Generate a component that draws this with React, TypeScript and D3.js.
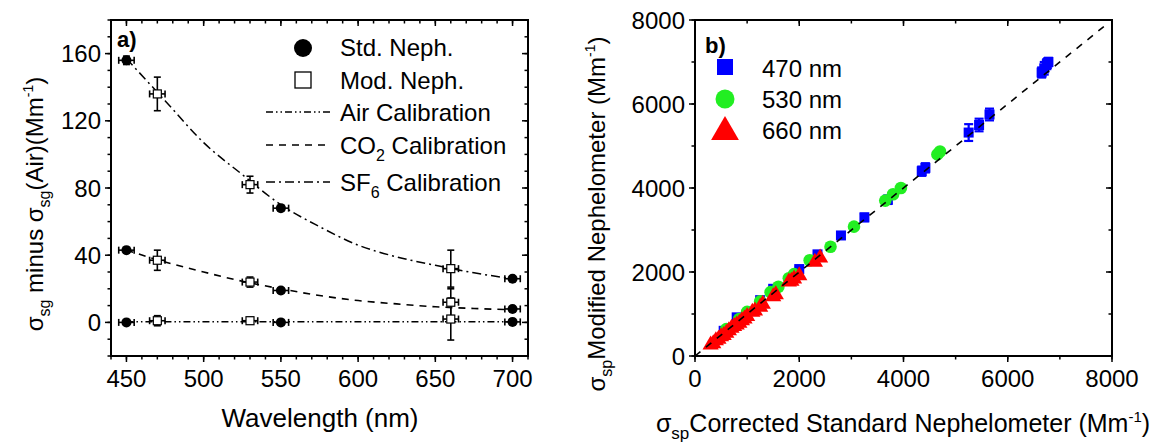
import React from "react";
import * as d3 from "d3";

// ---------- Panel a data ----------
const stdWl = [450, 550, 700];
const stdAir = [0, 0, 0.3];
const stdAirErr = [1.5, 1.5, 1.5];
const stdCO2 = [43, 19, 8];
const stdCO2Err = [1.5, 1.5, 1.5];
const stdSF6 = [156, 68, 26];
const stdSF6Err = [2.5, 1.5, 1.5];

const modWl = [470, 530, 660];
const modAir = [1, 1, 2];
const modAirErr = [3, 2, 12.5];
const modCO2 = [37, 24, 12];
const modCO2Err = [6, 3, 8];
const modSF6 = [136, 82, 32];
const modSF6Err = [10, 5, 11];
const wlErr = 5;

const fitWl = [450, 475, 500, 525, 550, 575, 600, 625, 650, 675, 700];
const fitAir = [0.4, 0.4, 0.4, 0.4, 0.4, 0.4, 0.4, 0.4, 0.4, 0.4, 0.4];
const fitCO2 = [43, 36, 30, 24.5, 20, 16, 13, 11, 9.3, 8.3, 7.5];
const fitSF6 = [157, 132, 107, 88, 70, 57, 46, 39, 34, 29.5, 26];

const aXTicks = [450, 500, 550, 600, 650, 700];
const aYTicks = [0, 40, 80, 120, 160];

// ---------- Panel b data ----------
const blueX = [550, 800, 1000, 1250, 1500, 2000, 2350, 2800, 3250, 3700, 4350, 4420, 5250, 5450, 5650, 6650, 6700, 6750, 6780];
const blueY = [600, 920, 1000, 1330, 1600, 2070, 2420, 2870, 3300, 3720, 4400, 4480, 5320, 5500, 5750, 6750, 6850, 6950, 7000];
const blueErr = [20, 30, 30, 40, 50, 60, 70, 80, 90, 100, 110, 110, 200, 150, 140, 120, 150, 120, 100];

const greenX = [600, 850, 1000, 1250, 1450, 1600, 1800, 1900, 2200, 2600, 3050, 3650, 3800, 3950, 4650, 4700];
const greenY = [640, 880, 1050, 1300, 1520, 1650, 1850, 1950, 2280, 2600, 3080, 3700, 3850, 4000, 4800, 4870];

const redX = [300, 350, 400, 450, 500, 550, 600, 650, 700, 750, 800, 850, 900, 950, 1000, 1100, 1150, 1250, 1300, 1500, 1550, 1800, 1850, 1900, 2000, 2300, 2400];
const redY = [280, 310, 380, 420, 480, 510, 560, 620, 680, 720, 760, 800, 860, 900, 960, 1060, 1090, 1180, 1250, 1430, 1480, 1780, 1800, 1850, 1930, 2250, 2350];

const bTicks = [0, 2000, 4000, 6000, 8000];
const oneToOne = [0, 7850];

const FONT = "Liberation Sans, Arial, Helvetica, sans-serif";
const BLUE = "#0000ff";
const GREEN = "#22ee22";
const RED = "#ff0000";

const TOP = 20;
const BOT = 356;

function Frame({ x0, x1, xScale, yScale, xMajor, xMinor, yMajor, yMinor, xFmt, yFmt }: any) {
  const els: any[] = [];
  const ML = 6, mL = 3.5;
  xMinor.forEach((v: number, i: number) => {
    const x = xScale(v);
    els.push(<line key={"xb" + i} x1={x} x2={x} y1={BOT} y2={BOT + mL} stroke="#000" strokeWidth={1.5} />);
    els.push(<line key={"xt" + i} x1={x} x2={x} y1={TOP} y2={TOP + mL} stroke="#000" strokeWidth={1.5} />);
  });
  xMajor.forEach((v: number, i: number) => {
    const x = xScale(v);
    els.push(<line key={"XB" + i} x1={x} x2={x} y1={BOT} y2={BOT + ML} stroke="#000" strokeWidth={1.5} />);
    els.push(<line key={"XT" + i} x1={x} x2={x} y1={TOP} y2={TOP + ML} stroke="#000" strokeWidth={1.5} />);
    els.push(<text key={"XL" + i} x={x} y={387} textAnchor="middle" fontSize={24} fontFamily={FONT}>{xFmt(v)}</text>);
  });
  yMinor.forEach((v: number, i: number) => {
    const y = yScale(v);
    els.push(<line key={"yl" + i} x1={x0 - mL} x2={x0} y1={y} y2={y} stroke="#000" strokeWidth={1.5} />);
    els.push(<line key={"yr" + i} x1={x1 - mL} x2={x1} y1={y} y2={y} stroke="#000" strokeWidth={1.5} />);
  });
  yMajor.forEach((v: number, i: number) => {
    const y = yScale(v);
    els.push(<line key={"YL" + i} x1={x0 - ML} x2={x0} y1={y} y2={y} stroke="#000" strokeWidth={1.5} />);
    els.push(<line key={"YR" + i} x1={x1 - ML} x2={x1} y1={y} y2={y} stroke="#000" strokeWidth={1.5} />);
    els.push(<text key={"YLb" + i} x={x0 - 10} y={y} dy="0.36em" textAnchor="end" fontSize={24} fontFamily={FONT}>{yFmt(v)}</text>);
  });
  els.push(<rect key="frame" x={x0} y={TOP} width={x1 - x0} height={BOT - TOP} fill="none" stroke="#000" strokeWidth={2} />);
  return <g>{els}</g>;
}

const AIR_DASH = "7,3,1.5,3,1.5,3";
const CO2_DASH = "7,6";
const SF6_DASH = "9,4,2,4";

export default function App() {
  // Panel a scales
  const ax = d3.scaleLinear().domain([440, 710]).range([111, 528]);
  const ay = d3.scaleLinear().domain([-20, 180]).range([BOT, TOP]);
  // Panel b scales
  const bx = d3.scaleLinear().domain([0, 8000]).range([695, 1112]);
  const by = d3.scaleLinear().domain([0, 8000]).range([BOT, TOP]);

  const fitLine = (vals: number[]) =>
    d3.line<number>().x((_, i) => ax(fitWl[i])).y((v) => ay(v)).curve(d3.curveMonotoneX)(vals) || "";

  const errBars = (wl: number[], vals: number[], err: number[], key: string) =>
    wl.map((w, i) => {
      const cx = ax(w), cy = ay(vals[i]);
      const yt = ay(vals[i] + err[i]), yb = ay(vals[i] - err[i]);
      const xl = ax(w - wlErr), xr = ax(w + wlErr);
      return (
        <g key={key + i} stroke="#000" strokeWidth={1.6}>
          <line x1={cx} x2={cx} y1={yt} y2={yb} />
          <line x1={cx - 3.5} x2={cx + 3.5} y1={yt} y2={yt} />
          <line x1={cx - 3.5} x2={cx + 3.5} y1={yb} y2={yb} />
          <line x1={xl} x2={xr} y1={cy} y2={cy} />
          <line x1={xl} x2={xl} y1={cy - 3.5} y2={cy + 3.5} />
          <line x1={xr} x2={xr} y1={cy - 3.5} y2={cy + 3.5} />
        </g>
      );
    });

  const stdPts = (vals: number[], key: string) =>
    stdWl.map((w, i) => <circle key={key + i} cx={ax(w)} cy={ay(vals[i])} r={5} fill="#000" />);
  const modPts = (vals: number[], key: string) =>
    modWl.map((w, i) => (
      <rect key={key + i} x={ax(w) - 4} y={ay(vals[i]) - 4} width={8} height={8} fill="#fff" stroke="#000" strokeWidth={1.2} />
    ));

  const aMinorX = d3.range(440, 711, 10);
  const aMinorY = d3.range(-20, 181, 10);
  const bMinor = d3.range(0, 8001, 1000);

  const tri = (cx: number, cy: number, s: number) =>
    `M${cx},${cy - s * 0.62}L${cx + s * 0.58},${cy + s * 0.38}L${cx - s * 0.58},${cy + s * 0.38}Z`;

  return (
    <svg width={1154} height={442} style={{ display: "block", position: "absolute", left: 0, top: 0 }} fontFamily={FONT}>
      <rect width={1154} height={442} fill="#fff" />

      {/* ---------------- Panel a ---------------- */}
      <path d={fitLine(fitAir)} fill="none" stroke="#000" strokeWidth={1.3} strokeDasharray={AIR_DASH} />
      <path d={fitLine(fitCO2)} fill="none" stroke="#000" strokeWidth={1.6} strokeDasharray={CO2_DASH} />
      <path d={fitLine(fitSF6)} fill="none" stroke="#000" strokeWidth={1.5} strokeDasharray={SF6_DASH} />

      {errBars(stdWl, stdAir, stdAirErr, "ea")}
      {errBars(stdWl, stdCO2, stdCO2Err, "ec")}
      {errBars(stdWl, stdSF6, stdSF6Err, "es")}
      {errBars(modWl, modAir, modAirErr, "ma")}
      {errBars(modWl, modCO2, modCO2Err, "mc")}
      {errBars(modWl, modSF6, modSF6Err, "ms")}
      {stdPts(stdAir, "sa")}
      {stdPts(stdCO2, "sc")}
      {stdPts(stdSF6, "ss")}
      {modPts(modAir, "pa")}
      {modPts(modCO2, "pc")}
      {modPts(modSF6, "ps")}

      <Frame x0={111} x1={528} xScale={ax} yScale={ay} xMajor={aXTicks} xMinor={aMinorX}
        yMajor={aYTicks} yMinor={aMinorY} xFmt={(v: number) => String(v)} yFmt={(v: number) => String(v)} />

      <text x={117} y={47} fontSize={22} fontWeight="bold" fontFamily={FONT}>a)</text>

      {/* legend a */}
      <circle cx={303} cy={48} r={9} fill="#000" />
      <text x={340} y={56} fontSize={24}>Std. Neph.</text>
      <rect x={295} y={72} width={16} height={16} fill="#fff" stroke="#000" strokeWidth={1.3} />
      <text x={340} y={89} fontSize={24}>Mod. Neph.</text>
      <line x1={266} x2={330} y1={112} y2={112} stroke="#000" strokeWidth={1.3} strokeDasharray={AIR_DASH} />
      <text x={340} y={121} fontSize={24}>Air Calibration</text>
      <line x1={266} x2={330} y1={145} y2={145} stroke="#000" strokeWidth={1.6} strokeDasharray={CO2_DASH} />
      <text x={340} y={154} fontSize={24}>CO<tspan fontSize={16} dy={7}>2</tspan><tspan dy={-7}> Calibration</tspan></text>
      <line x1={266} x2={330} y1={182} y2={182} stroke="#000" strokeWidth={1.5} strokeDasharray={SF6_DASH} />
      <text x={340} y={191} fontSize={24}>SF<tspan fontSize={16} dy={7}>6</tspan><tspan dy={-7}> Calibration</tspan></text>

      {/* axis titles a */}
      <text x={320} y={427} textAnchor="middle" fontSize={26}>Wavelength (nm)</text>
      <text transform="translate(43,204) rotate(-90)" textAnchor="middle" fontSize={24}>
        σ<tspan fontSize={16} dy={7}>sg</tspan><tspan dy={-7}> minus σ</tspan><tspan fontSize={16} dy={7}>sg</tspan>
        <tspan dy={-7}>(Air)(Mm</tspan><tspan fontSize={14} dy={-10}>-1</tspan><tspan dy={10}>)</tspan>
      </text>

      {/* ---------------- Panel b ---------------- */}
      {blueX.map((v, i) => {
        const cx = bx(v), yt = by(blueY[i] + blueErr[i]), yb = by(blueY[i] - blueErr[i]);
        return (
          <g key={"be" + i} stroke={BLUE} strokeWidth={2.2}>
            <line x1={cx} x2={cx} y1={yt} y2={yb} />
            <line x1={cx - 4.5} x2={cx + 4.5} y1={yt} y2={yt} />
            <line x1={cx - 4.5} x2={cx + 4.5} y1={yb} y2={yb} />
          </g>
        );
      })}
      {blueX.map((v, i) => (
        <rect key={"b" + i} x={bx(v) - 5} y={by(blueY[i]) - 5} width={10} height={10} fill={BLUE} />
      ))}
      {greenX.map((v, i) => (
        <circle key={"g" + i} cx={bx(v)} cy={by(greenY[i])} r={6.3} fill={GREEN} />
      ))}
      {redX.map((v, i) => (
        <path key={"r" + i} d={tri(bx(v), by(redY[i]), 14)} fill={RED} />
      ))}
      <line x1={bx(oneToOne[0])} y1={by(oneToOne[0])} x2={bx(oneToOne[1])} y2={by(oneToOne[1])}
        stroke="#000" strokeWidth={1.6} strokeDasharray="7,7" />

      <Frame x0={695} x1={1112} xScale={bx} yScale={by} xMajor={bTicks} xMinor={bMinor}
        yMajor={bTicks} yMinor={bMinor} xFmt={(v: number) => String(v)} yFmt={(v: number) => String(v)} />

      <text x={705} y={53} fontSize={22} fontWeight="bold">b)</text>

      {/* legend b */}
      <rect x={717} y={59} width={16} height={16} fill={BLUE} />
      <text x={762} y={77} fontSize={24}>470 nm</text>
      <circle cx={725} cy={99} r={9.5} fill={GREEN} />
      <text x={762} y={108} fontSize={24}>530 nm</text>
      <path d={tri(725, 131, 24)} fill={RED} />
      <text x={762} y={139} fontSize={24}>660 nm</text>

      {/* axis titles b */}
      <text x={903} y={432} textAnchor="middle" fontSize={25}>
        σ<tspan fontSize={17} dy={7}>sp</tspan><tspan dy={-7}>Corrected Standard Nephelometer (Mm</tspan>
        <tspan fontSize={15} dy={-10}>-1</tspan><tspan dy={10}>)</tspan>
      </text>
      <text transform="translate(605,214) rotate(-90)" textAnchor="middle" fontSize={24}>
        σ<tspan fontSize={16} dy={7}>sp</tspan><tspan dy={-7}>Modified Nephelometer (Mm</tspan>
        <tspan fontSize={14} dy={-10}>-1</tspan><tspan dy={10}>)</tspan>
      </text>
    </svg>
  );
}
